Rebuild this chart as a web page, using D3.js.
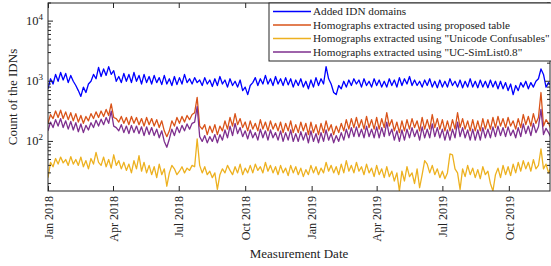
<!DOCTYPE html>
<html><head><meta charset="utf-8">
<script src="https://cdn.jsdelivr.net/npm/d3@7"></script>
<style>body{margin:0;background:#fff}svg{display:block}text{font-family:"Liberation Serif","Times New Roman",serif;fill:#222}</style>
</head><body><svg id="c" width="551" height="266"></svg>
<script>
// Sampled every 3.5 days starting 1 Jan 2018
const startDate = new Date(2018,0,1);
const stepDays = 3.5;
const seriesNames = ["Added IDN domains","Homographs extracted using proposed table","Homographs extracted using \"Unicode Confusables\"","Homographs extracted using \"UC-SimList0.8\""];
const seriesColors = ["#0000ff","#d95319","#edb120","#7e2f8e"];
const added = [
750,1100,900,1300,1000,1400,1050,1350,950,1250,
1000,850,700,560,800,650,900,1000,1300,1100,
1700,1200,1600,1250,1750,1300,1500,1000,1200,950,
1350,1000,1300,950,1400,1000,1250,900,1300,950,
1200,900,1250,950,1150,880,1250,900,1100,850,
1200,880,1150,900,1300,950,1100,900,1150,950,
1050,850,1150,900,1050,820,1100,850,1200,900,
1050,800,1100,850,1000,800,1050,700,800,600,
850,950,1150,850,1100,900,1250,900,1100,850,
1200,900,1100,850,1150,870,1100,800,1050,850,
1100,800,1000,750,1050,800,1150,850,1100,900,
1750,1100,900,650,600,850,750,1000,800,1050,
850,1100,900,1050,800,1100,850,1000,800,1100,
850,1050,800,1000,800,1100,850,1050,800,1150,
850,1100,900,1200,850,1050,850,1000,800,1050,
850,1100,800,1000,780,1050,800,1000,800,1100,
850,1000,800,1050,780,1000,800,1100,800,1000,
780,1050,800,1000,780,1050,800,1000,750,1000,
750,950,700,900,600,850,700,950,800,1000,
750,950,800,1000,1100,1600,1300,800,950,850];
const proposed = [
200,280,240,320,250,330,240,310,230,300,
220,290,210,270,200,260,220,290,240,310,
250,320,260,340,270,420,250,240,210,260,
200,250,190,260,200,250,190,240,180,250,
190,240,180,230,170,220,150,120,150,220,
180,250,200,260,210,270,230,280,300,540,
180,160,190,130,180,140,190,130,180,150,
220,160,250,180,290,190,240,170,210,150,
220,160,200,150,230,160,210,150,220,160,
200,150,210,140,200,150,220,140,190,140,
210,150,200,130,210,140,190,130,200,140,
220,150,190,130,180,140,200,150,230,160,
240,170,250,170,230,160,260,170,230,160,
250,160,240,170,300,180,230,150,210,140,
220,150,230,160,240,170,220,150,250,160,
230,160,280,170,240,160,230,150,220,150,
230,160,300,170,240,160,220,150,230,150,
220,150,240,160,230,160,250,170,260,180,
240,170,250,180,220,160,240,170,280,190,
260,180,290,200,250,650,180,230,200,160];
const unicodeConf = [
25,45,38,52,42,55,44,50,40,56,
42,50,40,55,38,48,35,52,42,66,
45,40,55,38,50,36,60,40,48,35,
45,33,42,30,48,35,58,32,45,30,
40,28,38,25,42,28,35,18,30,40,
35,28,32,38,30,36,33,40,38,110,
40,30,38,28,32,25,30,16,28,35,
30,40,33,28,38,30,42,28,36,30,
40,30,42,33,38,30,45,32,40,30,
38,28,40,30,36,27,40,30,38,28,
36,26,34,28,40,30,38,28,36,30,
45,32,40,30,38,28,42,30,48,32,
40,30,45,32,38,28,42,30,36,26,
40,28,35,25,38,26,32,22,30,15,
32,22,38,26,30,20,35,17,28,48,
42,30,40,28,35,25,32,24,30,62,
60,35,30,16,35,26,40,28,36,25,
34,24,38,28,32,20,15,28,36,25,
40,28,38,27,42,30,45,32,48,35,
45,32,50,35,40,75,35,42,30,38];
const simList = [
150,210,170,230,180,240,170,220,160,215,
155,205,145,195,140,185,155,205,170,225,
180,235,190,250,200,320,180,170,150,190,
140,180,135,185,140,180,135,175,125,175,
130,170,125,160,115,150,100,80,110,160,
125,175,140,185,150,195,160,200,210,380,
120,100,125,95,120,100,130,95,130,105,
155,115,180,125,200,135,170,120,150,110,
155,115,140,105,160,115,150,105,155,115,
140,105,150,100,140,105,155,100,135,100,
145,105,140,95,150,100,135,95,140,100,
155,105,135,95,125,100,140,105,160,115,
170,120,175,120,160,115,180,120,160,115,
175,115,170,120,210,125,160,105,150,100,
155,105,160,115,170,120,155,105,175,115,
160,115,195,120,170,115,160,105,155,105,
160,115,210,120,170,115,155,105,160,105,
155,105,170,115,160,115,175,120,180,125,
170,120,175,125,155,115,170,120,195,135,
180,125,200,140,175,340,130,165,140,115];
const xTickDates = [[2018,0],[2018,3],[2018,6],[2018,9],[2019,0],[2019,3],[2019,6],[2019,9]];
const xTickLabels = ["Jan 2018","Apr 2018","Jul 2018","Oct 2018","Jan 2019","Apr 2019","Jul 2019","Oct 2019"];
const yTickValues = [100,1000,10000];
const yTickExps = ["2","3","4"];

const svg = d3.select("#c");
const L=48,R=550,T=3,B=191;
const x = d3.scaleTime().domain([new Date(2018,0,1), new Date(2019,10,27)]).range([L,R]);
const y = d3.scaleLog().domain([15,20000]).range([B,T]);
const dates = added.map((_,i)=> new Date(startDate.getTime() + i*stepDays*864e5));

svg.append("defs").append("clipPath").attr("id","clip").append("rect")
  .attr("x",L).attr("y",T).attr("width",R-L).attr("height",B-T);

const series = [added, proposed, unicodeConf, simList];
const line = d3.line().x((d,i)=>x(dates[i])).y(d=>y(d));
const g = svg.append("g").attr("clip-path","url(#clip)");
series.forEach((s,k)=>{
  g.append("path").datum(s).attr("d",line).attr("fill","none")
   .attr("stroke",seriesColors[k]).attr("stroke-width",1.3).attr("stroke-linejoin","round");
});

// frame
svg.append("rect").attr("x",L).attr("y",T).attr("width",R-L).attr("height",B-T)
  .attr("fill","none").attr("stroke","#262626").attr("stroke-width",1);

const tickDates = xTickDates.map(d=>new Date(d[0],d[1],1));
const axB = d3.axisBottom(x).tickValues(tickDates).tickSize(-5).tickFormat((d,i)=>xTickLabels[i]).tickPadding(4);
const gb = svg.append("g").attr("transform",`translate(0,${B})`).call(axB);
gb.select(".domain").remove();
gb.selectAll("line").attr("stroke","#262626");
gb.selectAll("text").attr("transform","rotate(-90)").attr("text-anchor","end")
  .attr("x",-5).attr("y",0).attr("dy","0.35em").style("font-size","12px").attr("fill","#222");
const axT = d3.axisTop(x).tickValues(tickDates).tickSize(-5).tickFormat("");
const gt = svg.append("g").attr("transform",`translate(0,${T})`).call(axT);
gt.select(".domain").remove(); gt.selectAll("line").attr("stroke","#262626");

const minor = [];
[10,100,1000,10000].forEach(b=>{for(let m=2;m<=9;m++){const v=b*m; if(v>=15&&v<=20000) minor.push(v);}});
[[L,1],[R,-1]].forEach(([x0,dir])=>{
  svg.append("g").selectAll("line.mj").data(yTickValues).join("line")
    .attr("x1",x0).attr("x2",x0+dir*5).attr("y1",d=>y(d)).attr("y2",d=>y(d)).attr("stroke","#262626");
  svg.append("g").selectAll("line.mn").data(minor).join("line")
    .attr("x1",x0).attr("x2",x0+dir*3).attr("y1",d=>y(d)).attr("y2",d=>y(d)).attr("stroke","#262626");
});
const yl = svg.append("g").selectAll("text").data(yTickValues).join("text")
  .attr("x",L-5).attr("y",d=>y(d)+4).attr("text-anchor","end").style("font-size","12.5px");
yl.append("tspan").text("10");
yl.append("tspan").attr("dy",-5).style("font-size","9px").text((d,i)=>yTickExps[i]);

svg.append("text").attr("x",299).attr("y",258).attr("text-anchor","middle").style("font-size","13px").text("Measurement Date");
svg.append("text").attr("transform","translate(17,97) rotate(-90)").attr("text-anchor","middle").style("font-size","13px").text("Count of the IDNs");

const lg = svg.append("g");
lg.append("rect").attr("x",269).attr("y",T).attr("width",290).attr("height",58)
  .attr("fill","#fff").attr("stroke","#262626").attr("stroke-width",1);
seriesNames.forEach((n,k)=>{
  const yy = 11.5 + k*13.5;
  lg.append("line").attr("x1",273).attr("x2",311).attr("y1",yy).attr("y2",yy)
    .attr("stroke",seriesColors[k]).attr("stroke-width",1.3);
  lg.append("text").attr("x",313).attr("y",yy+3.8).style("font-size","11.2px").text(n);
});
</script></body></html>
